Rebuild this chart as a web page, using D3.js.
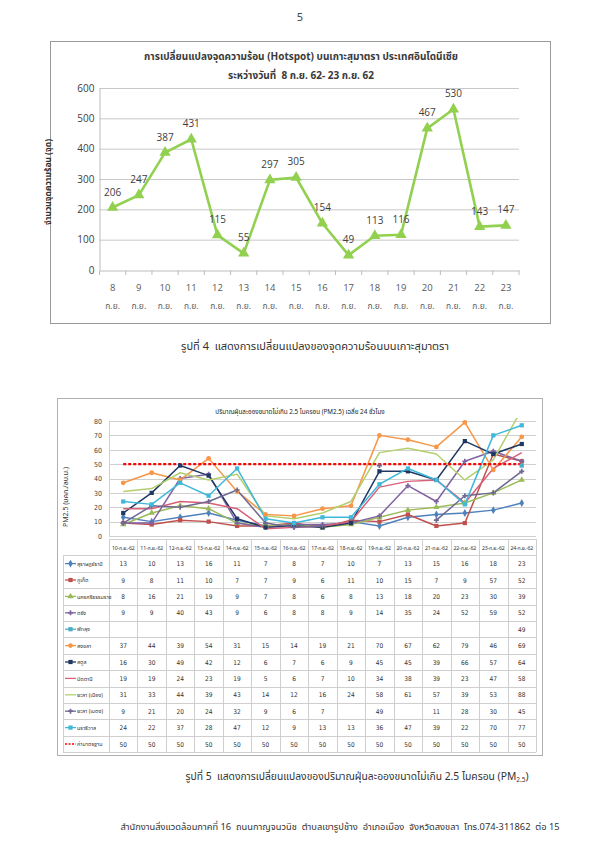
<!DOCTYPE html>
<html><head><meta charset="utf-8">
<script src="https://cdn.jsdelivr.net/npm/d3@7"></script>
<style>
html,body{margin:0;padding:0;background:#fff;}
svg{display:block;}
text{font-family:"Noto Sans Thai","Tahoma","Noto Sans","DejaVu Sans",sans-serif;white-space:pre;}
</style></head>
<body>
<svg id="page" width="600" height="848"></svg>
<script>
// ---------- Chart 1 data ----------
const hotspotDays = ["8","9","10","11","12","13","14","15","16","17","18","19","20","21","22","23"];
const hotspotMonth = "ก.ย.";
const hotspotValues = [206,247,387,431,115,55,297,305,154,49,113,116,467,530,143,147];
const hotspotTicks = [0,100,200,300,400,500,600];

// ---------- Chart 2 data ----------
const pmDates = ["10-ก.ย.-62","11-ก.ย.-62","12-ก.ย.-62","13-ก.ย.-62","14-ก.ย.-62","15-ก.ย.-62","16-ก.ย.-62","17-ก.ย.-62","18-ก.ย.-62","19-ก.ย.-62","20-ก.ย.-62","21-ก.ย.-62","22-ก.ย.-62","23-ก.ย.-62","24-ก.ย.-62"];
const pmTicks = [0,10,20,30,40,50,60,70,80];
const suratthani   = [13,10,13,16,11,7,8,7,10,7,13,15,16,18,23];
const phuket       = [9,8,11,10,7,7,9,6,11,10,15,7,9,57,52];
const nakhonsi     = [8,16,21,19,9,7,8,6,8,13,18,20,23,30,39];
const trang        = [9,9,40,43,9,6,8,8,9,14,35,24,52,59,52];
const phatthalung  = [null,null,null,null,null,null,null,null,null,null,null,null,null,null,49];
const songkhla     = [37,44,39,54,31,15,14,19,21,70,67,62,79,46,69];
const satun        = [16,30,49,42,12,6,7,6,9,45,45,39,66,57,64];
const pattani      = [19,19,24,23,19,5,6,7,10,34,38,39,23,47,58];
const yalaMueang   = [31,33,44,39,43,14,12,16,24,58,61,57,39,53,88];
const yalaBetong   = [9,21,20,24,32,9,6,7,null,49,null,11,28,30,45];
const narathiwat   = [24,22,37,28,47,12,9,13,13,36,47,39,22,70,77];
const standard     = [50,50,50,50,50,50,50,50,50,50,50,50,50,50,50];
const pmNames = ["สุราษฎร์ธานี","ภูเก็ต","นครศรีธรรมราช","ตรัง","พัทลุง","สงขลา","สตูล","ปัตตานี","ยะลา (เมือง)","ยะลา (เบตง)","นราธิวาส","ค่ามาตรฐาน"];
const pmValues = [suratthani,phuket,nakhonsi,trang,phatthalung,songkhla,satun,pattani,yalaMueang,yalaBetong,narathiwat,standard];
const pmColors = ["#4F81BD","#C0504D","#9BBB59","#8064A2","#4BACC6","#F79646","#1F3864","#D9607A","#B3CF6E","#6E6892","#3FB8D9","#FF0000"];
const pmMarkers = ["diamond","square","triangle","cross","square","circle","square","none","none","cross","square","none"];

const svg = d3.select("#page");

// Page number
svg.append("text").attr("x",300).attr("y",21).attr("text-anchor","middle")
  .attr("font-size",11).attr("fill","#444").text("5");

// ================= CHART 1 =================
const c1 = svg.append("g");
c1.append("rect").attr("x",50.5).attr("y",41.5).attr("width",500).attr("height",282)
  .attr("fill","#fff").attr("stroke","#9a9a9a").attr("stroke-width",1);
c1.append("text").attr("x",301).attr("y",60).attr("text-anchor","middle")
  .attr("font-size",10).attr("font-weight","bold").attr("fill","#3a3a3a")
  .text("การเปลี่ยนแปลงจุดความร้อน (Hotspot) บนเกาะสุมาตรา ประเทศอินโดนีเซีย");
c1.append("text").attr("x",301).attr("y",79).attr("text-anchor","middle")
  .attr("font-size",10).attr("font-weight","bold").attr("fill","#3a3a3a")
  .text("ระหว่างวันที่  8 ก.ย. 62- 23 ก.ย. 62");

const x1 = d3.scaleBand().domain(hotspotDays).range([99.5,519]);
const y1 = d3.scaleLinear().domain([0,600]).range([270,88]);

// gridlines
c1.append("g").selectAll("line").data(hotspotTicks.filter(d=>d>0)).join("line")
  .attr("x1",99.5).attr("x2",519).attr("y1",d=>y1(d)+0.5).attr("y2",d=>y1(d)+0.5)
  .attr("stroke","#c8c8c8").attr("stroke-width",1);
// y axis
const ya1 = c1.append("g").attr("transform","translate(99.5,0)")
  .call(d3.axisLeft(y1).tickValues(hotspotTicks).tickSize(0).tickPadding(5));
ya1.select(".domain").attr("stroke","#bdbdbd");
ya1.selectAll("text").attr("font-size",10).attr("fill","#404040")
  .style("font-family",'"Open Sans","Noto Sans",sans-serif');
// x axis
const xa1 = c1.append("g").attr("transform","translate(0,270.5)")
  .call(d3.axisBottom(x1).tickSize(0).tickFormat(""));
xa1.select(".domain").attr("stroke","#bdbdbd");
c1.append("g").selectAll("line").data(hotspotDays.concat(["end"])).join("line")
  .attr("x1",(d,i)=>99.5+i*x1.step()).attr("x2",(d,i)=>99.5+i*x1.step())
  .attr("y1",270.5).attr("y2",275).attr("stroke","#bdbdbd");
const xl1 = c1.append("g").selectAll("g").data(hotspotDays).join("g")
  .attr("transform",d=>`translate(${x1(d)+x1.bandwidth()/2},0)`);
xl1.append("text").attr("y",291).attr("text-anchor","middle").attr("font-size",9.5)
  .attr("fill","#595959").style("font-family",'"Open Sans","Noto Sans",sans-serif').text(d=>d);
xl1.append("text").attr("y",309).attr("text-anchor","middle").attr("font-size",8.5)
  .attr("fill","#595959").text(hotspotMonth);
// y title
c1.append("text").attr("transform","translate(51,182) rotate(-90)")
  .attr("text-anchor","middle").attr("font-size",8.5).attr("font-weight","bold")
  .attr("fill","#333").text("จำนวนจุดความร้อน (จุด)");
// line
const line1 = d3.line().x((d,i)=>x1(hotspotDays[i])+x1.bandwidth()/2).y(d=>y1(d));
c1.append("path").datum(hotspotValues).attr("d",line1).attr("fill","none")
  .attr("stroke","#92D050").attr("stroke-width",2.6).attr("stroke-linejoin","round");
c1.append("g").selectAll("path").data(hotspotValues).join("path")
  .attr("d",d3.symbol(d3.symbolTriangle,55))
  .attr("transform",(d,i)=>`translate(${x1(hotspotDays[i])+x1.bandwidth()/2},${y1(d)})`)
  .attr("fill","#92D050");
c1.append("g").selectAll("text").data(hotspotValues).join("text")
  .attr("x",(d,i)=>x1(hotspotDays[i])+x1.bandwidth()/2)
  .attr("y",d=>y1(d)-12).attr("text-anchor","middle").attr("font-size",10)
  .attr("fill","#404040").style("font-family",'"Open Sans","Noto Sans",sans-serif')
  .text(d=>d);

// caption 1
svg.append("text").attr("x",315).attr("y",350).attr("text-anchor","middle")
  .attr("font-size",11).attr("fill","#333")
  .text("รูปที่ 4  แสดงการเปลี่ยนแปลงของจุดความร้อนบนเกาะสุมาตรา");

// ================= CHART 2 =================
const c2 = svg.append("g");
c2.append("rect").attr("x",57.5).attr("y",398.5).attr("width",485).attr("height",357)
  .attr("fill","#fff").attr("stroke","#b0b0b0");
c2.append("text").attr("x",300).attr("y",414).attr("text-anchor","middle")
  .attr("font-size",6.3).attr("fill","#222")
  .text("ปริมาณฝุ่นละอองขนาดไม่เกิน 2.5 ไมครอน (PM2.5) เฉลี่ย 24 ชั่วโมง");

const x2 = d3.scaleBand().domain(pmDates).range([109,536]);
const y2 = d3.scaleLinear().domain([0,80]).range([536,421]);

c2.append("g").selectAll("line").data(pmTicks).join("line")
  .attr("x1",109).attr("x2",536).attr("y1",d=>Math.round(y2(d))+0.5).attr("y2",d=>Math.round(y2(d))+0.5)
  .attr("stroke","#d0d0d0");
const ya2 = c2.append("g").attr("transform","translate(109,0)")
  .call(d3.axisLeft(y2).tickValues(pmTicks).tickSize(0).tickPadding(7));
ya2.select(".domain").attr("stroke","#d0d0d0");
ya2.selectAll("text").attr("font-size",7).attr("fill","#444")
  .style("font-family",'"Liberation Sans Narrow","DejaVu Sans Condensed",sans-serif');
c2.append("text").attr("transform","translate(68,497) rotate(-90)")
  .attr("text-anchor","middle").attr("font-size",7).attr("fill","#333")
  .text("PM2.5 (มคก./ลบ.ม.)");

// clip for lines
svg.append("defs").append("clipPath").attr("id","plot2")
  .append("rect").attr("x",105).attr("y",418).attr("width",435).attr("height",122);

const cx2 = i => x2(pmDates[i]) + x2.bandwidth()/2;
const line2 = d3.line().defined(d=>d!=null).x((d,i)=>cx2(i)).y(d=>y2(d));
const plot = c2.append("g").attr("clip-path","url(#plot2)");
pmValues.forEach((vals,s)=>{
  if (s===11) return;
  plot.append("path").datum(vals).attr("d",line2).attr("fill","none")
    .attr("stroke",pmColors[s]).attr("stroke-width",1.5).attr("stroke-linejoin","round");
});
// standard line
plot.append("path").datum(standard).attr("d",line2).attr("fill","none")
  .attr("stroke",pmColors[11]).attr("stroke-width",2.2).attr("stroke-dasharray","3,2");
// markers
const symMap = {diamond:d3.symbolDiamond,square:d3.symbolSquare,triangle:d3.symbolTriangle,cross:d3.symbolCross,circle:d3.symbolCircle};
pmValues.forEach((vals,s)=>{
  const m = pmMarkers[s];
  if (m==="none") return;
  plot.append("g").selectAll("path").data(vals.map((v,i)=>({v,i})).filter(d=>d.v!=null)).join("path")
    .attr("d",d3.symbol(symMap[m], m==="cross"?14:18))
    .attr("transform",d=>`translate(${cx2(d.i)},${y2(d.v)})`)
    .attr("fill",pmColors[s]);
});

// data table
const rowH = 16.4, tTop = 539, headH = 16.4;
const tb = c2.append("g");
const nRows = pmNames.length;
const tBottom = tTop + headH + nRows*rowH;
for (let r=0;r<=nRows;r++){
  const yy = Math.round(tTop+headH+r*rowH)+0.5;
  tb.append("line").attr("x1",63).attr("x2",536).attr("y1",yy).attr("y2",yy).attr("stroke","#cfcfcf");
}
tb.append("line").attr("x1",109).attr("x2",536).attr("y1",tTop+0.5).attr("y2",tTop+0.5).attr("stroke","#cfcfcf");
for (let c=0;c<=pmDates.length;c++){
  const xx = Math.round(109 + c*x2.step())+0.5;
  tb.append("line").attr("x1",xx).attr("x2",xx).attr("y1",tTop).attr("y2",tBottom).attr("stroke","#cfcfcf");
}
tb.append("line").attr("x1",63.5).attr("x2",63.5).attr("y1",tTop+headH).attr("y2",tBottom).attr("stroke","#cfcfcf");
// header
tb.append("g").selectAll("text").data(pmDates).join("text")
  .attr("x",(d,i)=>cx2(i)).attr("y",tTop+headH/2+2.5).attr("text-anchor","middle")
  .attr("font-size",5.2).attr("letter-spacing",-0.15).attr("fill","#333").text(d=>d);
// rows
pmNames.forEach((name,r)=>{
  const yc = tTop+headH+r*rowH+rowH/2;
  const g = tb.append("g");
  if (r===11){
    g.append("line").attr("x1",65).attr("x2",76).attr("y1",yc).attr("y2",yc)
      .attr("stroke",pmColors[r]).attr("stroke-width",1.6).attr("stroke-dasharray","2,1.5");
  } else {
    g.append("line").attr("x1",65).attr("x2",76).attr("y1",yc).attr("y2",yc)
      .attr("stroke",pmColors[r]).attr("stroke-width",1.3);
    if (pmMarkers[r]!=="none")
      g.append("path").attr("d",d3.symbol(symMap[pmMarkers[r]],pmMarkers[r]==="cross"?14:18))
        .attr("transform",`translate(70.5,${yc})`).attr("fill",pmColors[r]);
  }
  g.append("text").attr("x",77).attr("y",yc+2.2).attr("font-size",5.4).attr("fill","#333").text(name);
  g.selectAll("text.v").data(pmValues[r]).join("text").attr("class","v")
    .attr("x",(d,i)=>cx2(i)).attr("y",yc+2.5).attr("text-anchor","middle")
    .attr("font-size",6.5).attr("fill","#333")
    .style("font-family",'"Liberation Sans Narrow","DejaVu Sans Condensed",sans-serif')
    .text(d=>d==null?"":d);
});

// caption 2
const cap2 = svg.append("text").attr("x",357).attr("y",780).attr("text-anchor","middle")
  .attr("font-size",10.3).attr("fill","#333");
cap2.append("tspan").text("รูปที่ 5  แสดงการเปลี่ยนแปลงของปริมาณฝุ่นละอองขนาดไม่เกิน 2.5 ไมครอน (PM");
cap2.append("tspan").attr("font-size",6.5).attr("dy",2).text("2.5");
cap2.append("tspan").attr("dy",-2).text(")");

// footer
svg.append("text").attr("x",340).attr("y",830).attr("text-anchor","middle")
  .attr("font-size",9.3).attr("fill","#333")
  .text("สำนักงานสิ่งแวดล้อมภาคที่ 16  ถนนกาญจนวนิช  ตำบลเขารูปช้าง  อำเภอเมือง  จังหวัดสงขลา  โทร.074-311862  ต่อ 15");
</script>
</body></html>
